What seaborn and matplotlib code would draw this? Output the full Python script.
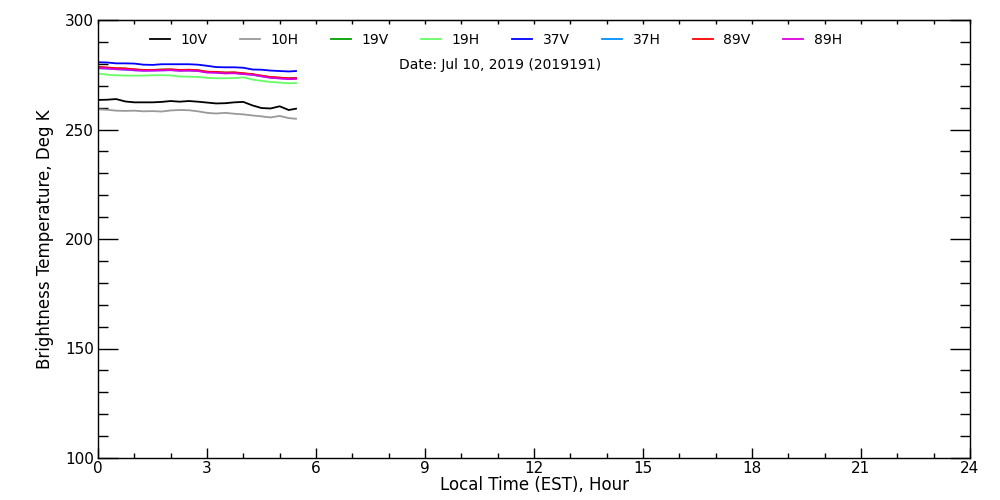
import matplotlib
matplotlib.use("Agg")
import matplotlib.pyplot as plt
from matplotlib.ticker import MultipleLocator
import numpy as np
import pandas as pd
import seaborn as sns

# Local time (EST), hours
HOURS = [0.0, 0.25, 0.5, 0.75, 1.0, 1.25, 1.5, 1.75, 2.0, 2.25, 2.5, 2.75,
         3.0, 3.25, 3.5, 3.75, 4.0, 4.25, 4.5, 4.75, 5.0, 5.25, 5.45]

# Brightness temperatures per channel, Deg K
TB_10V = [263.5, 263.6, 263.9, 262.8, 262.4, 262.4, 262.4, 262.6, 263.0, 262.7, 263.0, 262.7,
          262.3, 261.9, 262.0, 262.4, 262.6, 261.0, 259.8, 259.6, 260.6, 258.9, 259.5]
TB_10H = [259.2, 259.0, 258.6, 258.5, 258.6, 258.3, 258.4, 258.2, 258.7, 258.9, 258.8, 258.3,
          257.6, 257.3, 257.6, 257.2, 256.9, 256.4, 256.0, 255.5, 256.2, 255.2, 254.9]
TB_19V = [278.4, 278.2, 277.9, 277.8, 277.4, 277.1, 277.2, 277.4, 277.4, 277.1, 277.2, 277.0,
          276.3, 276.2, 276.0, 276.0, 275.6, 275.2, 274.5, 273.9, 273.6, 273.3, 273.4]
TB_19H = [275.6, 275.0, 274.8, 274.6, 274.6, 274.6, 274.8, 274.8, 274.7, 274.2, 274.1, 274.0,
          273.6, 273.4, 273.4, 273.5, 273.8, 272.8, 272.2, 271.7, 271.4, 271.1, 271.2]
TB_37V = [280.7, 280.6, 280.2, 280.2, 280.1, 279.6, 279.5, 279.8, 279.8, 279.8, 279.8, 279.6,
          279.1, 278.5, 278.4, 278.4, 278.2, 277.4, 277.3, 276.9, 276.7, 276.5, 276.7]
TB_37H = [277.9, 277.8, 277.6, 277.3, 277.0, 276.9, 276.9, 277.0, 277.1, 276.9, 276.9, 276.8,
          276.2, 276.0, 275.7, 275.8, 275.4, 275.0, 274.3, 273.7, 273.4, 273.2, 273.4]
TB_89V = [278.6, 278.3, 278.0, 277.9, 277.5, 277.2, 277.2, 277.3, 277.5, 277.2, 277.3, 277.1,
          276.4, 276.3, 276.0, 276.1, 275.7, 275.3, 274.6, 274.0, 273.7, 273.4, 273.5]
TB_89H = [278.1, 277.9, 277.5, 277.4, 277.1, 276.8, 276.9, 277.0, 277.1, 276.8, 276.9, 276.7,
          276.0, 275.9, 275.6, 275.7, 275.3, 275.0, 274.3, 273.6, 273.3, 273.0, 273.1]

CHANNELS = ["10V", "10H", "19V", "19H", "37V", "37H", "89V", "89H"]
SERIES = [TB_10V, TB_10H, TB_19V, TB_19H, TB_37V, TB_37H, TB_89V, TB_89H]
COLORS = {
    "10V": "#000000", "10H": "#999999", "19V": "#00a000", "19H": "#66ff66",
    "37V": "#0000ff", "37H": "#0090ff", "89V": "#ff0000", "89H": "#dd00dd",
}

df = pd.concat(
    [pd.DataFrame({"hour": HOURS, "tb": vals, "channel": ch}) for ch, vals in zip(CHANNELS, SERIES)],
    ignore_index=True,
)

plt.rcParams["font.family"] = ["DejaVu Sans"]
plt.rcParams["font.size"] = 11

fig = plt.figure(figsize=(10, 5), dpi=100)
ax = fig.add_axes([0.098, 0.084, 0.872, 0.876])

sns.lineplot(data=df, x="hour", y="tb", hue="channel", hue_order=CHANNELS,
             palette=COLORS, linewidth=1.3, ax=ax, legend=True)

ax.set_xlim(0, 24)
ax.set_ylim(100, 300)
ax.xaxis.set_major_locator(MultipleLocator(3))
ax.xaxis.set_minor_locator(MultipleLocator(1))
ax.yaxis.set_major_locator(MultipleLocator(50))
ax.yaxis.set_minor_locator(MultipleLocator(10))

ax.tick_params(axis="x", which="major", direction="in", length=7.2, width=1, pad=2, top=False)
ax.tick_params(axis="x", which="minor", direction="in", length=3.6, width=1, top=False)
ax.tick_params(axis="y", which="major", direction="in", length=14.4, width=1, pad=3, right=True)
ax.tick_params(axis="y", which="minor", direction="in", length=7.2, width=1, right=True)

# top axis: short ticks every hour
top = ax.secondary_xaxis("top")
top.xaxis.set_major_locator(MultipleLocator(1))
top.tick_params(direction="in", length=3.2, width=1, labeltop=False)

for s in ax.spines.values():
    s.set_linewidth(1)

ax.set_xlabel("Local Time (EST), Hour", fontsize=12, labelpad=0)
ax.set_ylabel("Brightness Temperature, Deg K", fontsize=12, labelpad=8)

handles, labels = ax.get_legend_handles_labels()
for h in handles:
    h.set_linewidth(1.3)
ax.legend(handles, labels, ncol=8, frameon=False, loc="center left",
          bbox_to_anchor=(0.0596, 0.954), borderpad=0, borderaxespad=0,
          handlelength=1.45, handletextpad=0.75, columnspacing=2.33, fontsize=10)

ax.text(0.461, 0.897, "Date: Jul 10, 2019 (2019191)", transform=ax.transAxes,
        ha="center", va="center", fontsize=10)

fig.savefig("out.png", dpi=100)
plt.close(fig)
